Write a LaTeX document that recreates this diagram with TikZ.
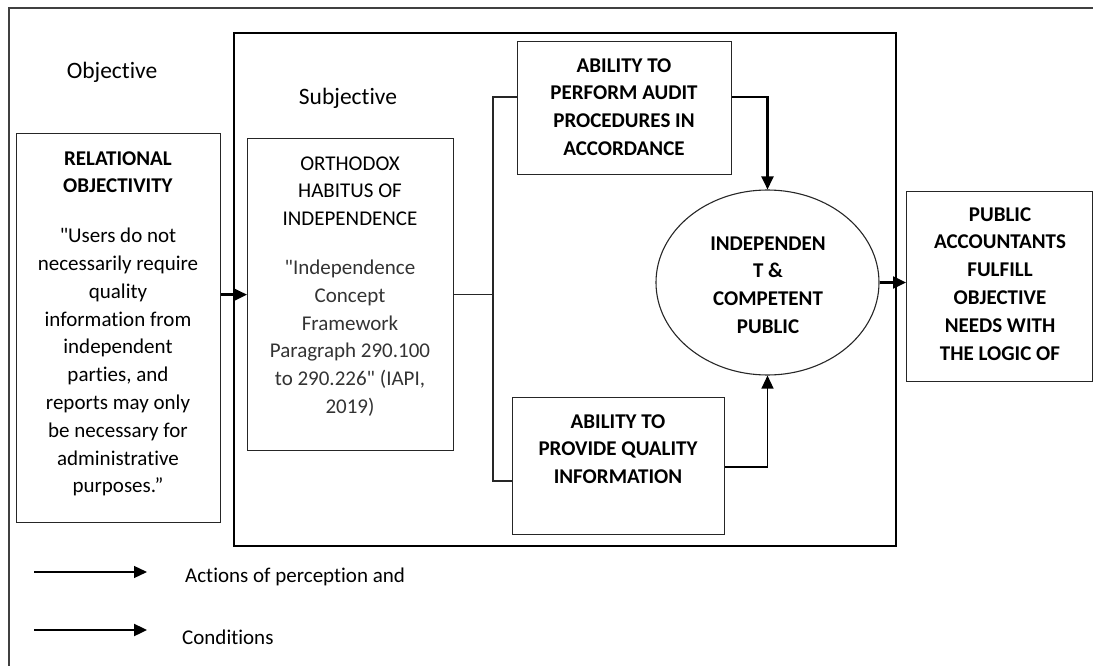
\documentclass[tikz,border=0pt]{standalone}
\usepackage{fontspec}
\setmainfont{Carlito}[Ligatures={TeX,NoCommon}]
\usetikzlibrary{arrows.meta,shapes.geometric}

% straight double quote, set as a glyph so the TeX mapping leaves it alone
\newcommand{\sq}{\XeTeXglyph\XeTeXcharglyph"22\relax}

\tikzset{
  box/.style={draw=black!85, line width=1.3pt, rectangle, inner sep=0pt, anchor=north west},
  bigbox/.style={draw=black, line width=2.4pt, rectangle, inner sep=0pt, anchor=north west},
  frameline/.style={draw=black!75, line width=2.4pt},
  txt/.style={align=center, inner sep=0pt, anchor=north, font=\fontsize{21}{27.8}\selectfont},
  btxt/.style={txt, font=\fontsize{21}{27.8}\selectfont\bfseries},
  lbl/.style={inner sep=0pt, font=\fontsize{23.5}{28}\selectfont},
  legtxt/.style={inner sep=0pt, anchor=west, font=\fontsize{21}{27.8}\selectfont},
  link/.style={draw=black!85, line width=1.3pt},
  act/.style={draw=black, line width=1.3pt, -{Triangle[length=13pt,width=12pt]}},
  cond/.style={draw=black, line width=2.4pt, -{Triangle[length=13pt,width=12pt]}},
}

\begin{document}
\begin{tikzpicture}[x=1pt, y=-1pt]
\useasboundingbox (0,0) rectangle (1093,666);

% outer frame (top and left edges)
\draw[frameline] (9,666) -- (9,8) -- (1093,8);

% subjective region
\node[bigbox, minimum width=662pt, minimum height=513pt] (subj) at (233,32) {};

% headings
\node[lbl] (objlbl) at (112,72) {Objective};
\node[lbl] (subjlbl) at (348,98) {Subjective};

% boxes
\node[box, minimum width=204pt, minimum height=389pt] (rel) at (16,133) {};
\node[box, minimum width=206pt, minimum height=312pt] (orth) at (247,138) {};
\node[box, minimum width=214pt, minimum height=133pt] (audit) at (517,41) {};
\node[box, minimum width=212pt, minimum height=137pt] (qual) at (512,397) {};
\node[box, minimum width=186pt, minimum height=190pt] (pub) at (906,191) {};
\node[draw=black!85, line width=1.1pt, ellipse, inner sep=0pt,
      minimum width=223pt, minimum height=185pt] (ell) at (767.5,282.5) {};

% box texts
\node[txt] (reltxt) at (118,145.5) {\strut\textbf{RELATIONAL}\\\textbf{OBJECTIVITY}\\[22pt]
  \sq Users do not\\necessarily require\\quality\\information from\\independent\\parties, and\\
  reports may only\\be necessary for\\administrative\\purposes.”};
\node[txt] (orthtxt) at (350,150.5) {\strut ORTHODOX\\HABITUS OF\\INDEPENDENCE\\[21pt]
  \color{black!80}\sq Independence\\\color{black!80}Concept\\\color{black!80}Framework\\
  \color{black!80}Paragraph 290.100\\\color{black!80}to 290.226\sq{} (IAPI,\\\color{black!80}2019)};
\node[btxt] (audittxt) at (624,52.5)
  {\strut ABILITY TO\\PERFORM AUDIT\\PROCEDURES IN\\ACCORDANCE};
\node[btxt] (qualtxt) at (618,408.5)
  {\strut ABILITY TO\\PROVIDE QUALITY\\INFORMATION};
\node[btxt] (elltxt) at (768,230.5)
  {\strut INDEPENDEN\\T \&\\COMPETENT\\PUBLIC};
\node[btxt] (pubtxt) at (1000,201.5)
  {\strut PUBLIC\\ACCOUNTANTS\\FULFILL\\OBJECTIVE\\NEEDS WITH\\THE LOGIC OF};

% connectors
\coordinate (busT) at (493,97);
\coordinate (busB) at (493,481);
\coordinate (qy) at (0,467);

\draw[cond] (rel.east |- orth.west) -- (orth.west);
\draw[link] (orth.east) -- (orth.east -| busT);
\draw[link] (busT -| audit.west) -- (busT) -- (busB) -- (busB -| qual.west);
\draw[cond] (audit.east |- busT) -| (ell.north);
\draw[act] (qual.east |- qy) -| (ell.south);
\draw[cond] (ell.east) -- (pub.west |- ell.east);

% legend
\coordinate (la1) at (34,572);
\coordinate (la2) at (147,572);
\coordinate (lc1) at (34,630);
\coordinate (lc2) at (147,630);
\draw[act] (la1) -- (la2);
\draw[cond] (lc1) -- (lc2);
\node[legtxt] (legact) at (185,577) {Actions of perception and};
\node[legtxt] (legcond) at (182,637) {Conditions};
\end{tikzpicture}
\end{document}
